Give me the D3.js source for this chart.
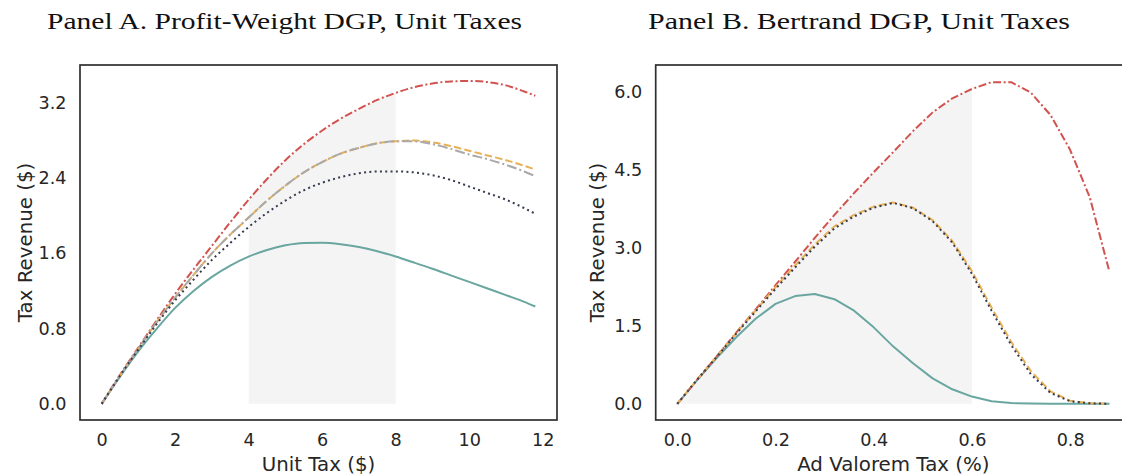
<!DOCTYPE html>
<html>
<head>
<meta charset="utf-8">
<script src="https://cdn.jsdelivr.net/npm/d3@7"></script>
<style>
  html, body { margin: 0; padding: 0; background: #ffffff; }
  svg { display: block; }
  .tick text { font-family: "DejaVu Sans", sans-serif; font-size: 17.6px; fill: #262626; }
</style>
</head>
<body>
<svg id="chart" width="1122" height="476"></svg>
<script>
// ---------- Panel A: profit-weight DGP, unit taxes ----------
const unitTax = [0, 0.5, 1, 1.5, 2, 2.5, 3, 3.5, 4, 4.5, 5, 5.5, 6, 6.5, 7, 7.5, 8, 8.5, 9, 9.5, 10, 10.5, 11, 11.5, 11.8];
const unitRed    = [0, 0.31, 0.60, 0.89, 1.17, 1.43, 1.68, 1.93, 2.17, 2.39, 2.59, 2.76, 2.905, 3.03, 3.135, 3.23, 3.305, 3.365, 3.405, 3.427, 3.432, 3.42, 3.385, 3.32, 3.275];
const unitOrange = [0, 0.30, 0.59, 0.87, 1.13, 1.37, 1.60, 1.80, 1.98, 2.16, 2.32, 2.46, 2.57, 2.66, 2.72, 2.77, 2.79, 2.80, 2.78, 2.74, 2.69, 2.64, 2.59, 2.53, 2.49];
const unitGrey   = [0, 0.30, 0.59, 0.87, 1.13, 1.37, 1.60, 1.80, 1.98, 2.16, 2.32, 2.46, 2.57, 2.66, 2.72, 2.77, 2.79, 2.79, 2.76, 2.71, 2.65, 2.60, 2.54, 2.47, 2.42];
const unitNavy   = [0, 0.30, 0.58, 0.85, 1.10, 1.32, 1.53, 1.71, 1.88, 2.03, 2.16, 2.27, 2.35, 2.41, 2.45, 2.47, 2.47, 2.46, 2.43, 2.38, 2.31, 2.24, 2.17, 2.08, 2.02];
const unitTeal   = [0, 0.29, 0.56, 0.80, 1.02, 1.20, 1.35, 1.47, 1.565, 1.635, 1.685, 1.71, 1.712, 1.697, 1.667, 1.622, 1.566, 1.502, 1.436, 1.366, 1.296, 1.226, 1.156, 1.084, 1.035];
const unitXTicks = [0, 2, 4, 6, 8, 10, 12];
const unitYTicks = [0, 0.8, 1.6, 2.4, 3.2];
const unitShade  = [4, 8];

// ---------- Panel B: Bertrand DGP ----------
const adValTax = [0, 0.04, 0.08, 0.12, 0.16, 0.20, 0.24, 0.28, 0.32, 0.36, 0.40, 0.44, 0.48, 0.52, 0.56, 0.60, 0.64, 0.68, 0.72, 0.76, 0.80, 0.84, 0.88];
const advRed    = [0, 0.46, 0.91, 1.37, 1.82, 2.28, 2.73, 3.19, 3.63, 4.05, 4.45, 4.84, 5.24, 5.60, 5.87, 6.05, 6.18, 6.18, 5.98, 5.55, 4.88, 3.97, 2.54];
const advOrange = [0, 0.46, 0.91, 1.36, 1.80, 2.24, 2.66, 3.06, 3.41, 3.63, 3.79, 3.87, 3.77, 3.53, 3.13, 2.55, 1.85, 1.19, 0.63, 0.24, 0.06, 0.012, 0.003];
const advNavy   = [0, 0.46, 0.90, 1.35, 1.78, 2.21, 2.62, 3.02, 3.37, 3.60, 3.77, 3.86, 3.76, 3.51, 3.10, 2.50, 1.79, 1.13, 0.57, 0.21, 0.05, 0.01, 0.002];
const advTeal   = [0, 0.45, 0.88, 1.28, 1.64, 1.92, 2.07, 2.11, 2.01, 1.79, 1.47, 1.10, 0.78, 0.49, 0.28, 0.14, 0.05, 0.015, 0.006, 0.003, 0.001, 0, 0];
const advXTicks = [0, 0.2, 0.4, 0.6, 0.8];
const advYTicks = [0, 1.5, 3.0, 4.5, 6.0];
const advShade  = [0, 0.6];

const svg = d3.select("#chart");

const styles = {
  red:    { color: "#d1534f", dash: "8,2.6,2,2.6" },
  orange: { color: "#e8b056", dash: "7.4,3.2" },
  grey:   { color: "#a9a9a9", dash: "10,3,2,3" },
  navy:   { color: "#363b4f", dash: "2,3.3" },
  teal:   { color: "#6aa6a0", dash: null }
};

function panel(cfg) {
  const { left, right, top, bottom, xDomain, yDomain } = cfg;
  const x = d3.scaleLinear().domain(xDomain).range([left, right]);
  const y = d3.scaleLinear().domain(yDomain).range([bottom, top]);
  const g = svg.append("g");

  // shaded band under the top curve
  const shadePts = cfg.xs.map((v, i) => [v, cfg.shadeTop[i]])
    .filter(d => d[0] >= cfg.shade[0] - 1e-9 && d[0] <= cfg.shade[1] + 1e-9);
  g.append("path")
    .datum(shadePts)
    .attr("fill", "#f4f4f4")
    .attr("d", d3.area().curve(cfg.curve).x(d => x(d[0])).y0(y(0)).y1(d => y(d[1])));

  // series
  cfg.series.forEach(s => {
    const st = styles[s.style];
    g.append("path")
      .datum(cfg.xs.map((v, i) => [v, s.values[i]]))
      .attr("fill", "none")
      .attr("stroke", st.color)
      .attr("stroke-width", 2)
      .attr("stroke-dasharray", st.dash)
      .attr("stroke-linejoin", "round")
      .attr("d", d3.line().curve(cfg.curve).x(d => x(d[0])).y(d => y(d[1])));
  });

  // axes (no tick marks, labels only)
  const ax = g.append("g").attr("transform", `translate(0,${bottom})`)
    .call(d3.axisBottom(x).tickValues(cfg.xTicks).tickSize(0).tickPadding(14).tickFormat(cfg.xFmt));
  ax.select(".domain").remove();
  const ay = g.append("g").attr("transform", `translate(${left},0)`)
    .call(d3.axisLeft(y).tickValues(cfg.yTicks).tickSize(0).tickPadding(13.5).tickFormat(d3.format(".1f")));
  ay.select(".domain").remove();

  // frame
  g.append("rect")
    .attr("x", left).attr("y", top)
    .attr("width", right - left).attr("height", bottom - top)
    .attr("fill", "none").attr("stroke", "#2f2f2f").attr("stroke-width", 1.7);

  // axis titles
  g.append("text")
    .attr("x", (left + right) / 2).attr("y", 471)
    .attr("text-anchor", "middle")
    .style("font-family", "DejaVu Sans, sans-serif").style("font-size", "19.8px").style("fill", "#262626")
    .text(cfg.xLabel);
  g.append("text")
    .attr("transform", `translate(${cfg.yLabelX},${(top + bottom) / 2}) rotate(-90)`)
    .attr("text-anchor", "middle")
    .style("font-family", "DejaVu Sans, sans-serif").style("font-size", "19.8px").style("fill", "#262626")
    .text("Tax Revenue ($)");

  // panel title
  g.append("text")
    .attr("x", cfg.titleX).attr("y", 29)
    .attr("textLength", cfg.titleW).attr("lengthAdjust", "spacingAndGlyphs")
    .style("font-family", "Liberation Serif, serif").style("font-size", "24px").style("fill", "#111")
    .text(cfg.title);
}

panel({
  left: 80, right: 557, top: 65, bottom: 420,
  xDomain: [-0.59, 12.39], yDomain: [-0.1715, 3.6015],
  xs: unitTax, shadeTop: unitRed, shade: unitShade, curve: d3.curveMonotoneX,
  series: [
    { style: "teal", values: unitTeal },
    { style: "red", values: unitRed },
    { style: "orange", values: unitOrange },
    { style: "grey", values: unitGrey },
    { style: "navy", values: unitNavy }
  ],
  xTicks: unitXTicks, yTicks: unitYTicks, xFmt: d3.format("d"),
  xLabel: "Unit Tax ($)", yLabelX: 31.5,
  title: "Panel A. Profit-Weight DGP, Unit Taxes", titleX: 47, titleW: 475
});

panel({
  left: 655.7, right: 1131, top: 65, bottom: 420,
  xDomain: [-0.044, 0.924], yDomain: [-0.31, 6.51],
  xs: adValTax, shadeTop: advRed, shade: advShade, curve: d3.curveLinear,
  series: [
    { style: "teal", values: advTeal },
    { style: "red", values: advRed },
    { style: "orange", values: advOrange },
    { style: "navy", values: advNavy }
  ],
  xTicks: advXTicks, yTicks: advYTicks, xFmt: d3.format(".1f"),
  xLabel: "Ad Valorem Tax (%)", yLabelX: 604,
  title: "Panel B. Bertrand DGP, Unit Taxes", titleX: 648, titleW: 422
});
</script>
</body>
</html>
